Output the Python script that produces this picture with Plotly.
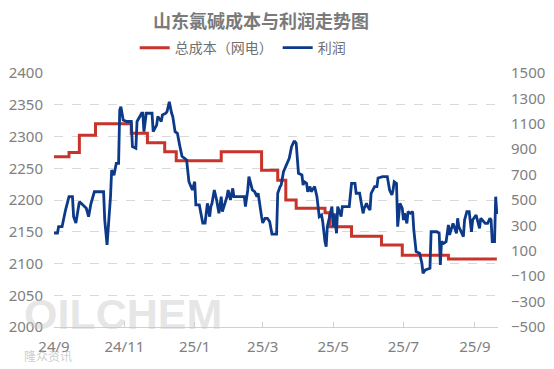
import plotly.graph_objects as go

# 总成本（网电） step series (left axis)
cost_dates = ["2024-09-01", "2024-09-14", "2024-09-23", "2024-10-07", "2024-11-07",
              "2024-11-21", "2024-12-06", "2024-12-16", "2025-01-24", "2025-02-28",
              "2025-03-14", "2025-03-21", "2025-03-30", "2025-04-24", "2025-04-28",
              "2025-05-17", "2025-06-12", "2025-06-30", "2025-08-09", "2025-09-20"]
cost_values = [2268, 2275, 2302, 2320, 2305,
               2290, 2276, 2262, 2276, 2247,
               2231, 2200, 2187, 2180, 2158,
               2143, 2129, 2113, 2107, 2107]

# 利润 series (right axis)
profit_dates = [
    "2024-09-01", "2024-09-04", "2024-09-05", "2024-09-08", "2024-09-11", "2024-09-14",
    "2024-09-17", "2024-09-18", "2024-09-20", "2024-09-23", "2024-09-25", "2024-09-29",
    "2024-10-01", "2024-10-03", "2024-10-06", "2024-10-14", "2024-10-15", "2024-10-17",
    "2024-10-20", "2024-10-21", "2024-10-23", "2024-10-25", "2024-10-27", "2024-10-28",
    "2024-10-29", "2024-10-31", "2024-11-03", "2024-11-07", "2024-11-08", "2024-11-11",
    "2024-11-12", "2024-11-16", "2024-11-17", "2024-11-18", "2024-11-20", "2024-11-25",
    "2024-11-26", "2024-11-29", "2024-11-30", "2024-12-03", "2024-12-04", "2024-12-07",
    "2024-12-08", "2024-12-10", "2024-12-12", "2024-12-13", "2024-12-15", "2024-12-17",
    "2024-12-19", "2024-12-21", "2024-12-25", "2024-12-27", "2024-12-30", "2025-01-01",
    "2025-01-02", "2025-01-05", "2025-01-08", "2025-01-10", "2025-01-12", "2025-01-14",
    "2025-01-15", "2025-01-16", "2025-01-18", "2025-01-20", "2025-01-22", "2025-01-24",
    "2025-01-25", "2025-01-29", "2025-01-30", "2025-02-01", "2025-02-03", "2025-02-04",
    "2025-02-13", "2025-02-14", "2025-02-16", "2025-02-17", "2025-02-20", "2025-02-22",
    "2025-02-24", "2025-02-25", "2025-02-28", "2025-03-01", "2025-03-03", "2025-03-05",
    "2025-03-07", "2025-03-09", "2025-03-13", "2025-03-14", "2025-03-16", "2025-03-17",
    "2025-03-19", "2025-03-22", "2025-03-23", "2025-03-24", "2025-03-26", "2025-03-28",
    "2025-03-29", "2025-03-30", "2025-04-01", "2025-04-04", "2025-04-05", "2025-04-06",
    "2025-04-08", "2025-04-09", "2025-04-11", "2025-04-12", "2025-04-13", "2025-04-15",
    "2025-04-17", "2025-04-18", "2025-04-19", "2025-04-21", "2025-04-22", "2025-04-24",
    "2025-04-25", "2025-04-26", "2025-04-28", "2025-04-30", "2025-05-01", "2025-05-02",
    "2025-05-04", "2025-05-05", "2025-05-08", "2025-05-09", "2025-05-15", "2025-05-17",
    "2025-05-20", "2025-05-21", "2025-05-24", "2025-05-26", "2025-05-27", "2025-05-28",
    "2025-05-30", "2025-05-31", "2025-06-02", "2025-06-03", "2025-06-06", "2025-06-08",
    "2025-06-09", "2025-06-13", "2025-06-17", "2025-06-19", "2025-06-21", "2025-06-22",
    "2025-06-23", "2025-06-25", "2025-06-26", "2025-06-28", "2025-06-30", "2025-07-01",
    "2025-07-02", "2025-07-04", "2025-07-05", "2025-07-07", "2025-07-09", "2025-07-10",
    "2025-07-12", "2025-07-15", "2025-07-17", "2025-07-18", "2025-07-20", "2025-07-24",
    "2025-07-25", "2025-07-30", "2025-08-01", "2025-08-02", "2025-08-03", "2025-08-05",
    "2025-08-07", "2025-08-09", "2025-08-10", "2025-08-13", "2025-08-16", "2025-08-17",
    "2025-08-18", "2025-08-22", "2025-08-23", "2025-08-25", "2025-08-27", "2025-08-29",
    "2025-08-30", "2025-09-02", "2025-09-04", "2025-09-05", "2025-09-06", "2025-09-10",
    "2025-09-12", "2025-09-14", "2025-09-15", "2025-09-16", "2025-09-18", "2025-09-19",
    "2025-09-20"]
profit_values = [
    240, 240, 290, 290, 421, 526,
    526, 369, 319, 487, 470, 435,
    369, 470, 565, 565, 342, 146,
    526, 736, 695, 789, 789, 1209,
    1235, 1130, 1118, 1118, 920, 907,
    1118, 1183, 1183, 1038, 1183, 1183,
    1038, 1090, 1157, 1118, 1170, 1183,
    1196, 1274, 1183, 1157, 1038, 1025,
    930, 844, 815, 644, 579, 644,
    461, 461, 319, 319, 474, 369,
    448, 474, 579, 500, 395, 526,
    408, 526, 579, 500, 592, 526,
    526, 448, 579, 684, 579, 565,
    526, 553, 369, 319, 356, 356,
    330, 232, 232, 553, 605, 618,
    723, 789, 815, 828, 920, 959,
    959, 946, 710, 697, 618, 644,
    631, 565, 605, 565, 579, 605,
    526, 448, 369, 382, 330, 172,
    133, 290, 369, 448, 290, 395,
    238, 448, 369, 448, 448, 631,
    631, 553, 553, 448, 395, 435,
    474, 448, 421, 553, 605, 605,
    673, 684, 684, 579, 540, 579,
    644, 631, 290, 474, 435, 342,
    395, 316, 408, 395, 408, 264,
    93, 80, 2, -77, -50, -37,
    250, 250, 238, -12, 172, 159,
    172, 304, 225, 316, 238, 356,
    290, 212, 342, 408, 408, 250,
    342, 382, 316, 277, 356, 316,
    316, 356, 342, 172, 172, 526,
    390]

left_ticks = [2000, 2050, 2100, 2150, 2200, 2250, 2300, 2350, 2400]
right_ticks = [-500, -300, -100, 100, 300, 500, 700, 900, 1100, 1300, 1500]
x_tickvals = ["2024-09-01", "2024-11-01", "2025-01-01", "2025-03-01",
              "2025-05-01", "2025-07-01", "2025-09-01"]
x_ticktext = ["24/9", "24/11", "25/1", "25/3", "25/5", "25/7", "25/9"]

RED = "#C8342B"
BLUE = "#0C3A88"
GRAY = "#808080"
FONT = "Noto Sans, Open Sans, DejaVu Sans, sans-serif"
CJK = "Noto Sans CJK SC, Noto Sans, sans-serif"

fig = go.Figure()
fig.add_trace(go.Scatter(x=cost_dates, y=cost_values, name="总成本（网电）",
                         mode="lines", line=dict(color=RED, width=3, shape="hv"),
                         yaxis="y"))
fig.add_trace(go.Scatter(x=profit_dates, y=profit_values, name="利润",
                         mode="lines", line=dict(color=BLUE, width=2.8),
                         yaxis="y2"))

fig.update_layout(
    width=554, height=369,
    margin=dict(l=54, r=56, t=73, b=42, autoexpand=False),
    paper_bgcolor="white", plot_bgcolor="white",
    title=dict(text="<b>山东氯碱成本与利润走势图</b>", x=0.471, xanchor="center",
               y=1 - 22 / 369, yanchor="middle",
               font=dict(family=CJK, size=18, color="#7a7a7a")),
    legend=dict(orientation="h", x=0.425, xanchor="center", y=1.098, yanchor="middle",
                font=dict(family=CJK, size=14, color="#707070"),
                itemwidth=30, tracegroupgap=0, bgcolor="rgba(0,0,0,0)"),
    xaxis=dict(type="date", range=["2024-09-01", "2025-09-21"],
               tickvals=x_tickvals, ticktext=x_ticktext,
               showgrid=False, showline=True, linecolor="#d0d0d0", linewidth=1,
               ticks="inside", ticklen=5, tickcolor="#d0d0d0",
               tickfont=dict(family=FONT, size=15, color=GRAY),
               ticklabelstandoff=6, zeroline=False),
    yaxis=dict(range=[2000, 2400], tickvals=left_ticks,
               showgrid=True, gridcolor="#d9d9d9", griddash="dash", gridwidth=1,
               showline=False, zeroline=False, ticks="",
               tickfont=dict(family=FONT, size=15, color=GRAY),
               ticklabelstandoff=10),
    yaxis2=dict(range=[-500, 1500], tickvals=right_ticks, overlaying="y", side="right",
                showgrid=False, showline=False, zeroline=False, ticks="",
                tickfont=dict(family=FONT, size=15, color=GRAY),
                ticklabelstandoff=12),
    showlegend=True,
)

# watermark
fig.add_annotation(text="<b>OILCHEM</b>", xref="paper", yref="paper", x=-0.073, y=0.05,
                   xanchor="left", yanchor="middle", showarrow=False,
                   font=dict(family="Liberation Sans, Arial, sans-serif",
                             size=43, color="rgba(200,200,200,0.45)"))
fig.add_annotation(text="隆众资讯", xref="paper", yref="paper", x=-0.072, y=-0.114,
                   xanchor="left", yanchor="middle", showarrow=False,
                   font=dict(family=CJK, size=12, color="rgba(170,170,170,0.6)"))

fig.write_html("out.html", config={"displayModeBar": False},
               post_script="document.body.style.margin='0';")
